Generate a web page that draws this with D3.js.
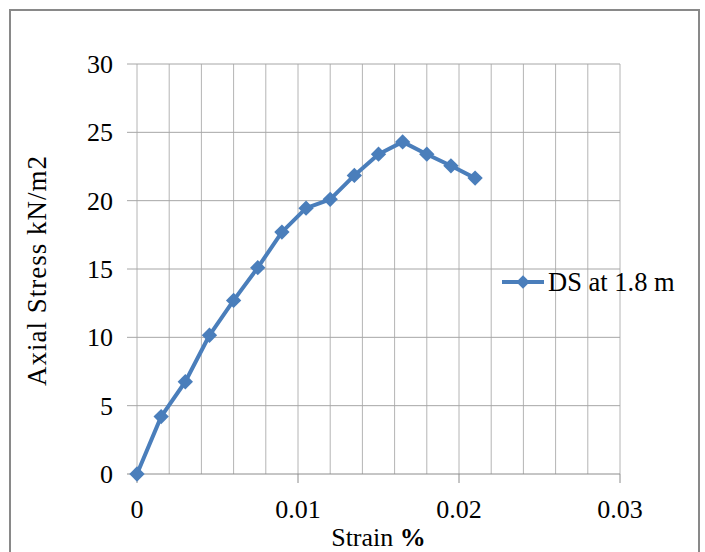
<!DOCTYPE html>
<html lang="en">
<head>
<meta charset="utf-8">
<script src="https://cdn.jsdelivr.net/npm/d3@7/dist/d3.min.js"></script>
<title>Axial Stress vs Strain</title>
<style>
  body { margin: 0; background: #fff; }
  text { font-family: "Liberation Serif", "Times New Roman", serif; fill: #000; }
</style>
</head>
<body>
<svg width="705" height="552"></svg>
<script>
// data
var strain = [0, 0.0015, 0.003, 0.0045, 0.006, 0.0075, 0.009, 0.0105, 0.012, 0.0135, 0.015, 0.0165, 0.018, 0.0195, 0.021];
var stress = [0, 4.2, 6.75, 10.15, 12.7, 15.1, 17.7, 19.45, 20.1, 21.85, 23.4, 24.3, 23.4, 22.55, 21.65];
var xTicks = [0, 0.01, 0.02, 0.03];
var yTicks = [0, 5, 10, 15, 20, 25, 30];
var seriesName = "DS at 1.8 m";

var blue = "#4a7ebb";
var svg = d3.select("svg");

// outer chart border
svg.append("rect")
  .attr("x", 10).attr("y", 10)
  .attr("width", 689).attr("height", 560)
  .attr("fill", "#fff")
  .attr("stroke", "#898989")
  .attr("stroke-width", 2);

var plotL = 137, plotR = 620, plotT = 64, plotB = 474;

var x = d3.scaleLinear().domain([0, 0.03]).range([plotL, plotR]);
var y = d3.scaleLinear().domain([0, 30]).range([plotB, plotT]);

var g = svg.append("g");

// vertical gridlines every 0.002
var minor = d3.range(0, 0.0301, 0.002);
g.selectAll(".vgrid").data(minor).enter().append("line")
  .attr("x1", function(d) { return x(d); })
  .attr("x2", function(d) { return x(d); })
  .attr("y1", y(0)).attr("y2", y(30))
  .attr("stroke", "#b4b4b4").attr("stroke-width", 1);

// horizontal gridlines + y ticks
g.selectAll(".hgrid").data(yTicks).enter().append("line")
  .attr("x1", plotL - 10).attr("x2", plotR)
  .attr("y1", function(d) { return y(d); })
  .attr("y2", function(d) { return y(d); })
  .attr("stroke", function(d) { return d === 0 ? "#8c8c8c" : "#a6a6a6"; })
  .attr("stroke-width", 1);

// x tick marks
g.selectAll(".xtick").data(xTicks).enter().append("line")
  .attr("x1", function(d) { return x(d); })
  .attr("x2", function(d) { return x(d); })
  .attr("y1", y(0)).attr("y2", y(0) + 9)
  .attr("stroke", "#8c8c8c");

// tick labels
g.selectAll(".ylab").data(yTicks).enter().append("text")
  .attr("x", 113)
  .attr("y", function(d) { return y(d) + 9; })
  .attr("text-anchor", "end")
  .attr("font-size", 26)
  .text(function(d) { return d; });

g.selectAll(".xlab").data(xTicks).enter().append("text")
  .attr("x", function(d) { return x(d); })
  .attr("y", 518)
  .attr("text-anchor", "middle")
  .attr("font-size", 26)
  .text(function(d) { return d; });

// axis titles
svg.append("text")
  .attr("x", (plotL + plotR) / 2).attr("y", 546)
  .attr("text-anchor", "middle")
  .attr("font-size", 26)
  .html('Strain <tspan font-weight="bold">%</tspan>');

svg.append("text")
  .attr("transform", "translate(46,271) rotate(-90)")
  .attr("text-anchor", "middle")
  .attr("font-size", 27)
  .attr("textLength", 230)
  .text("Axial Stress kN/m2");

// series
var pts = strain.map(function(s, i) { return [s, stress[i]]; });
var line = d3.line()
  .x(function(d) { return x(d[0]); })
  .y(function(d) { return y(d[1]); });

svg.append("path")
  .datum(pts)
  .attr("d", line)
  .attr("fill", "none")
  .attr("stroke", blue)
  .attr("stroke-width", 4)
  .attr("stroke-linejoin", "round");

var diamond = d3.symbol().type(d3.symbolDiamond2).size(150);
svg.selectAll(".pt").data(pts).enter().append("path")
  .attr("d", diamond)
  .attr("transform", function(d) { return "translate(" + x(d[0]) + "," + y(d[1]) + ")"; })
  .attr("fill", blue);

// legend
var lg = svg.append("g").attr("transform", "translate(502,282)");
lg.append("line")
  .attr("x1", 0).attr("x2", 42).attr("y1", 0).attr("y2", 0)
  .attr("stroke", blue).attr("stroke-width", 4);
lg.append("path")
  .attr("d", d3.symbol().type(d3.symbolDiamond2).size(115))
  .attr("transform", "translate(21,0)")
  .attr("fill", blue);
lg.append("text")
  .attr("x", 46).attr("y", 9)
  .attr("font-size", 26.5)
  .text(seriesName);
</script>
</body>
</html>
